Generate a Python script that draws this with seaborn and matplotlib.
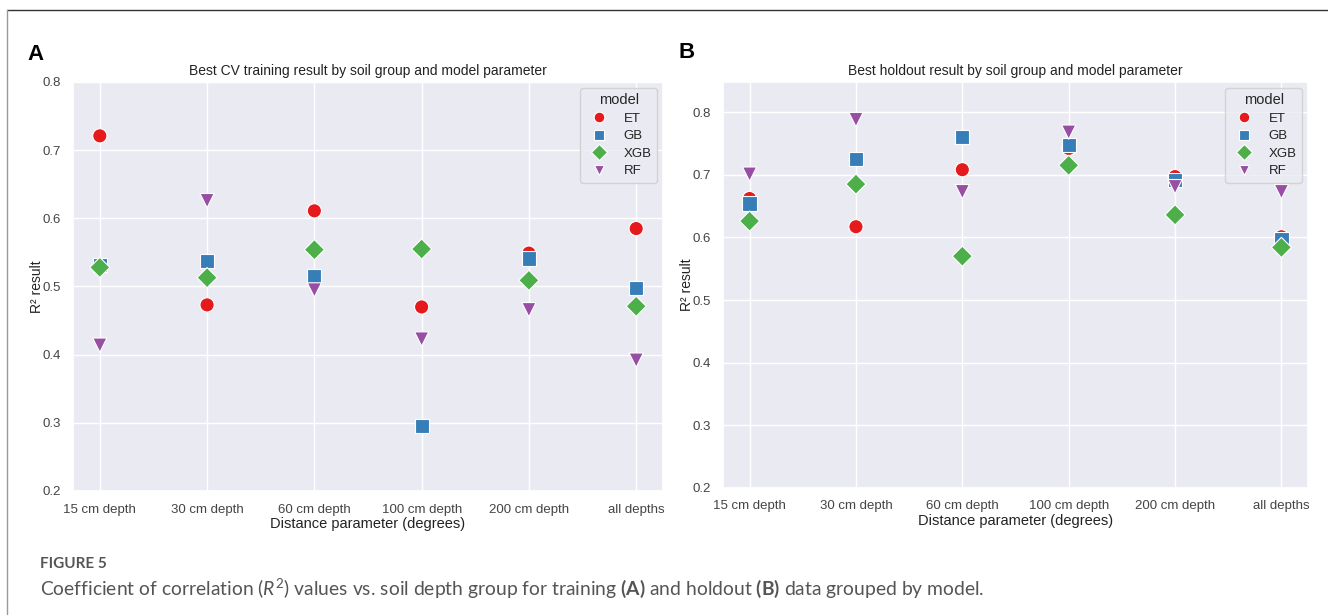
import matplotlib
matplotlib.use("Agg")
import matplotlib.pyplot as plt
import seaborn as sns
import pandas as pd
from matplotlib.lines import Line2D

depths = ["15 cm depth", "30 cm depth", "60 cm depth", "100 cm depth", "200 cm depth", "all depths"]
models = ["ET", "GB", "XGB", "RF"]

# Panel A: best CV training R2
cv_ET = [0.721, 0.473, 0.611, 0.470, 0.549, 0.585]
cv_GB = [0.532, 0.537, 0.515, 0.295, 0.541, 0.498]
cv_XGB = [0.528, 0.513, 0.554, 0.555, 0.509, 0.471]
cv_RF = [0.414, 0.626, 0.495, 0.423, 0.466, 0.392]

# Panel B: best holdout R2
ho_ET = [0.662, 0.617, 0.708, 0.742, 0.697, 0.601]
ho_GB = [0.654, 0.725, 0.760, 0.748, 0.691, 0.598]
ho_XGB = [0.626, 0.685, 0.570, 0.715, 0.636, 0.584]
ho_RF = [0.701, 0.788, 0.673, 0.768, 0.681, 0.673]

titles = ["Best CV training result by soil group and model parameter",
          "Best holdout result by soil group and model parameter"]
xlabel = "Distance parameter (degrees)"
ylabel = "R\u00b2 result"
yticks_A = [0.2, 0.3, 0.4, 0.5, 0.6, 0.7, 0.8]
yticks_B = [0.2, 0.3, 0.4, 0.5, 0.6, 0.7, 0.8]


def make_df(et, gb, xgb, rf):
    rows = []
    for m, vals in zip(models, [et, gb, xgb, rf]):
        for d, v in zip(depths, vals):
            rows.append({"depth": d, "r2": v, "model": m})
    return pd.DataFrame(rows)


dfA = make_df(cv_ET, cv_GB, cv_XGB, cv_RF)
dfB = make_df(ho_ET, ho_GB, ho_XGB, ho_RF)

sns.set_theme(style="darkgrid")
plt.rcParams["font.family"] = ["Liberation Sans", "DejaVu Sans"]
plt.rcParams["mathtext.fontset"] = "custom"
plt.rcParams["mathtext.rm"] = "Lato"
plt.rcParams["mathtext.it"] = "Lato:italic"
plt.rcParams["mathtext.bf"] = "Lato:bold"

fig = plt.figure(figsize=(13.28, 6.15), dpi=100)
axA = fig.add_axes([73 / 1328, 1 - 491 / 615, 590 / 1328, 409 / 615])
axB = fig.add_axes([723 / 1328, 1 - 488 / 615, 585 / 1328, 406 / 615])

palette = sns.color_palette("Set1", 4)
markers = {"ET": "o", "GB": "s", "XGB": "D", "RF": "v"}
tick_color = "#444444"

for ax, df, title, yt, ylim in [(axA, dfA, titles[0], yticks_A, (0.2, 0.8)),
                                 (axB, dfB, titles[1], yticks_B, (0.2, 0.848))]:
    sns.scatterplot(data=df, x="depth", y="r2", hue="model", style="model",
                    hue_order=models, style_order=models, markers=markers,
                    palette=palette, s=105, edgecolor="white", linewidth=0.8,
                    ax=ax)
    ax.set_ylim(*ylim)
    ax.set_xlim(-0.25, 5.25)
    ax.set_yticks(yt)
    ax.set_yticklabels([f"{v:.1f}" for v in yt])
    ax.tick_params(axis="both", labelsize=9.5, colors=tick_color, pad=3)
    ax.set_title(title, fontsize=10, color="#222222", pad=5)
    ax.set_xlabel(xlabel, fontsize=10.5, color="#222222", labelpad=1)
    ax.set_ylabel(ylabel, fontsize=10, color="#222222", labelpad=-1)
    leg = ax.legend(title="model", loc="upper right", fontsize=9.5,
                    title_fontsize=10.5, markerscale=0.75, handletextpad=0.9,
                    borderpad=0.4, labelspacing=0.4, frameon=True,
                    bbox_to_anchor=(1.0, 1.0), borderaxespad=0.45)
    leg.get_frame().set_edgecolor("#cccccc")
    leg.get_frame().set_facecolor("#eaeaf2")
    leg.get_frame().set_alpha(0.8)
    for t in leg.get_texts():
        t.set_color("#222222")

fig.text(27 / 1328, 1 - 55 / 615, "A", fontsize=16, fontweight="bold",
         va="center", ha="left", color="black")
fig.text(678 / 1328, 1 - 53 / 615, "B", fontsize=16, fontweight="bold",
         va="center", ha="left", color="black")

fig.text(40 / 1328, 1 - 564 / 615, "FIGURE 5", fontsize=11, family="Lato",
         fontweight="bold", color="#555555", va="center", ha="left")
fig.text(40 / 1328, 1 - 588 / 615,
         r"Coefficient of correlation ($\mathit{R}^{2}$) values vs. soil depth group "
         r"for training $\mathbf{(A)}$ and holdout $\mathbf{(B)}$ data grouped by model.",
         fontsize=13.9, family="Lato", color="#555555", va="center", ha="left")

fig.add_artist(Line2D([7 / 1328, 1.0], [1 - 10 / 615, 1 - 10 / 615],
                      transform=fig.transFigure, color="#333333", lw=1.0))
fig.add_artist(Line2D([7 / 1328, 7 / 1328], [0, 1 - 10 / 615],
                      transform=fig.transFigure, color="#999999", lw=1.0))

fig.savefig("out.png", dpi=100)
